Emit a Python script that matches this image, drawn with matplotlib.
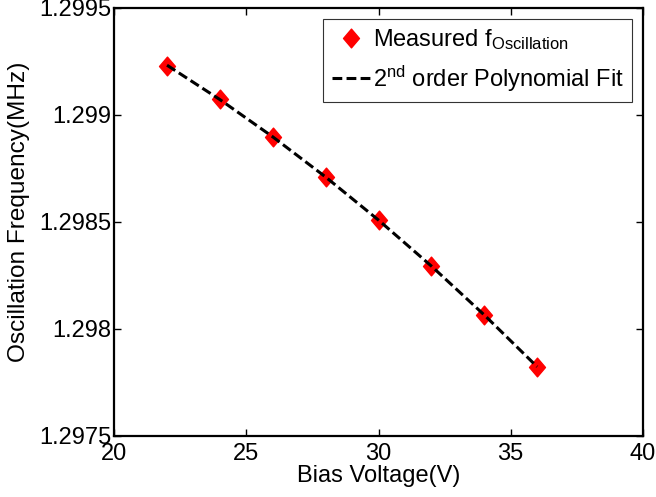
import numpy as np
import matplotlib
matplotlib.use("Agg")
import matplotlib.pyplot as plt  # noqa: E402
from matplotlib.path import Path  # noqa: E402

# measured oscillation frequency vs bias voltage
bias_v = [22, 24, 26, 28, 30, 32, 34, 36]
freq_mhz = [1.299231, 1.299074, 1.298898, 1.298709,
            1.298508, 1.298293, 1.298066, 1.297823]
x_ticks = [20, 25, 30, 35, 40]
y_ticks = [1.2975, 1.298, 1.2985, 1.299, 1.2995]
y_tick_labels = ["1.2975", "1.298", "1.2985", "1.299", "1.2995"]

plt.rcParams["font.family"] = ["Liberation Sans", "DejaVu Sans"]
plt.rcParams["mathtext.fontset"] = "custom"
plt.rcParams["mathtext.rm"] = "Liberation Sans"
plt.rcParams["mathtext.it"] = "Liberation Sans:italic"

# 2nd order fit of the measured points
coef = np.polyfit(bias_v, freq_mhz, 2)
fit = np.polyval(coef, bias_v)

diamond = Path([(0, 1), (0.85, 0), (0, -1), (-0.85, 0), (0, 1)],
               [Path.MOVETO, Path.LINETO, Path.LINETO, Path.LINETO, Path.CLOSEPOLY])

fig = plt.figure(figsize=(6.56, 4.97), dpi=100)
ax = fig.add_axes([0.174, 0.123, 0.806, 0.861])

ax.plot(bias_v, freq_mhz, linestyle="none", marker=diamond, ms=13.5,
        color="red", mec="red", label=r"Measured f$_{\mathrm{Oscillation}}$", zorder=2)
ax.plot(bias_v, fit, "--", color="black", lw=2.2, dashes=(3.2, 1.4),
        label=r"2$^{\mathrm{nd}}$ order Polynomial Fit", zorder=3)

ax.set_xlim(20, 40)
ax.set_ylim(1.2975, 1.2995)
ax.set_xticks(x_ticks)
ax.set_yticks(y_ticks)
ax.set_yticklabels(y_tick_labels)
ax.tick_params(direction="in", length=5, width=1, labelsize=17,
               top=True, right=True)
ax.tick_params(axis="y", pad=2)
ax.tick_params(axis="x", pad=5)
for s in ax.spines.values():
    s.set_linewidth(1.6)

ax.set_xlabel("Bias Voltage(V)", fontsize=17, labelpad=0)
ax.set_ylabel("Oscillation Frequency(MHz)", fontsize=17.6)
ax.yaxis.set_label_coords(-0.159, 0.523)

leg = ax.legend(loc="upper right", fontsize=17, numpoints=1, handlelength=1.6,
                handletextpad=0.15, borderpad=0.35, labelspacing=0.5,
                borderaxespad=0.45, fancybox=False, framealpha=1)
leg.get_frame().set_edgecolor("#333333")
leg.get_frame().set_linewidth(0.8)

fig.savefig("out.png", dpi=100)
plt.close(fig)
